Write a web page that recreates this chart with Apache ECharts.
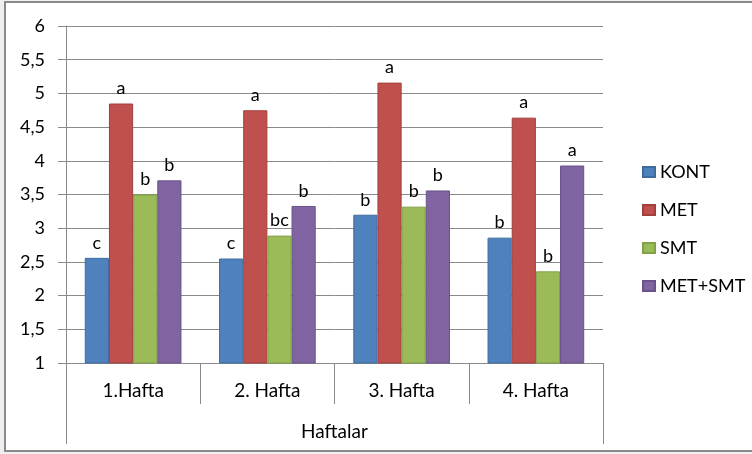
<!DOCTYPE html>
<html>
<head>
<meta charset="utf-8">
<script src="https://cdn.jsdelivr.net/npm/echarts@6/dist/echarts.min.js"></script>
<style>
  html, body { margin: 0; padding: 0; background: #fff; }
  #wrap { position: relative; width: 752px; height: 454px; overflow: hidden; background: #efefef; }
  #frame { position: absolute; left: 4px; top: 1px; width: 760px; height: 451px; border: 2px solid #8a8a8a; background: #fff; box-sizing: border-box; }
  #chart { position: absolute; left: 0; top: 0; width: 752px; height: 454px; }
</style>
</head>
<body>
<div id="wrap">
  <div id="frame"></div>
  <div id="chart"></div>
</div>
<script>
  // haftalar
  const categories = ['1.Hafta', '2. Hafta', '3. Hafta', '4. Hafta'];
  const seriesNames = ['KONT', 'MET', 'SMT', 'MET+SMT'];

  const kont = [2.56, 2.55, 3.20, 2.86];
  const met = [4.85, 4.75, 5.16, 4.64];
  const smt = [3.50, 2.89, 3.32, 2.36];
  const metSmt = [3.71, 3.33, 3.56, 3.93];

  // harf gruplari
  const kontLetters = ['c', 'c', 'b', 'b'];
  const metLetters = ['a', 'a', 'a', 'a'];
  const smtLetters = ['b', 'bc', 'b', 'b'];
  const metSmtLetters = ['b', 'b', 'b', 'a'];

  const colors = ['#4F81BD', '#C0504D', '#9BBB59', '#8064A2'];
  const borders = ['#3f6c9f', '#a03f3c', '#82a047', '#6a5289'];
  const font = 'Lato, "Open Sans", sans-serif';

  function makeSeries(name, values, letters, i) {
    return {
      name: name,
      type: 'bar',
      data: values,
      barGap: 0,
      barCategoryGap: '28%',
      itemStyle: { color: colors[i], borderColor: borders[i], borderWidth: 1 },
      label: {
        show: true,
        position: 'top',
        distance: 6,
        fontFamily: font,
        fontSize: 18,
        color: '#000',
        formatter: p => letters[p.dataIndex]
      }
    };
  }

  const chart = echarts.init(document.getElementById('chart'));
  chart.setOption({
    animation: false,
    color: colors,
    grid: { left: 66, right: 149, top: 26, bottom: 91, containLabel: false },
    legend: {
      orient: 'vertical',
      left: 637,
      top: 158,
      itemWidth: 12,
      itemHeight: 10,
      itemGap: 20,
      icon: 'rect',
      data: seriesNames,
      textStyle: { fontFamily: font, fontSize: 18, color: '#000' }
    },
    xAxis: [
      {
        type: 'category',
        data: categories,
        position: 'bottom',
        axisLine: { show: true, lineStyle: { color: '#8a8a8a', width: 1 } },
        axisTick: { show: true, length: 41, lineStyle: { color: '#8a8a8a' } },
        axisLabel: { margin: 18, fontFamily: font, fontSize: 19, color: '#000' }
      },
      {
        type: 'category',
        data: ['Haftalar'],
        position: 'bottom',
        axisLine: { show: false },
        axisTick: { show: true, length: 81, lineStyle: { color: '#8a8a8a' } },
        axisLabel: { margin: 59, fontFamily: font, fontSize: 19, color: '#000' }
      }
    ],
    yAxis: {
      type: 'value',
      min: 1,
      max: 6,
      interval: 0.5,
      axisLine: { show: true, lineStyle: { color: '#8a8a8a' } },
      axisTick: { show: true, length: 8, lineStyle: { color: '#8a8a8a' } },
      splitLine: { show: true, lineStyle: { color: '#8a8a8a', width: 1 } },
      axisLabel: {
        margin: 21,
        fontFamily: font,
        fontSize: 18,
        color: '#000',
        formatter: v => String(v).replace('.', ',')
      }
    },
    series: [
      makeSeries(seriesNames[0], kont, kontLetters, 0),
      makeSeries(seriesNames[1], met, metLetters, 1),
      makeSeries(seriesNames[2], smt, smtLetters, 2),
      makeSeries(seriesNames[3], metSmt, metSmtLetters, 3)
    ]
  });
</script>
</body>
</html>
